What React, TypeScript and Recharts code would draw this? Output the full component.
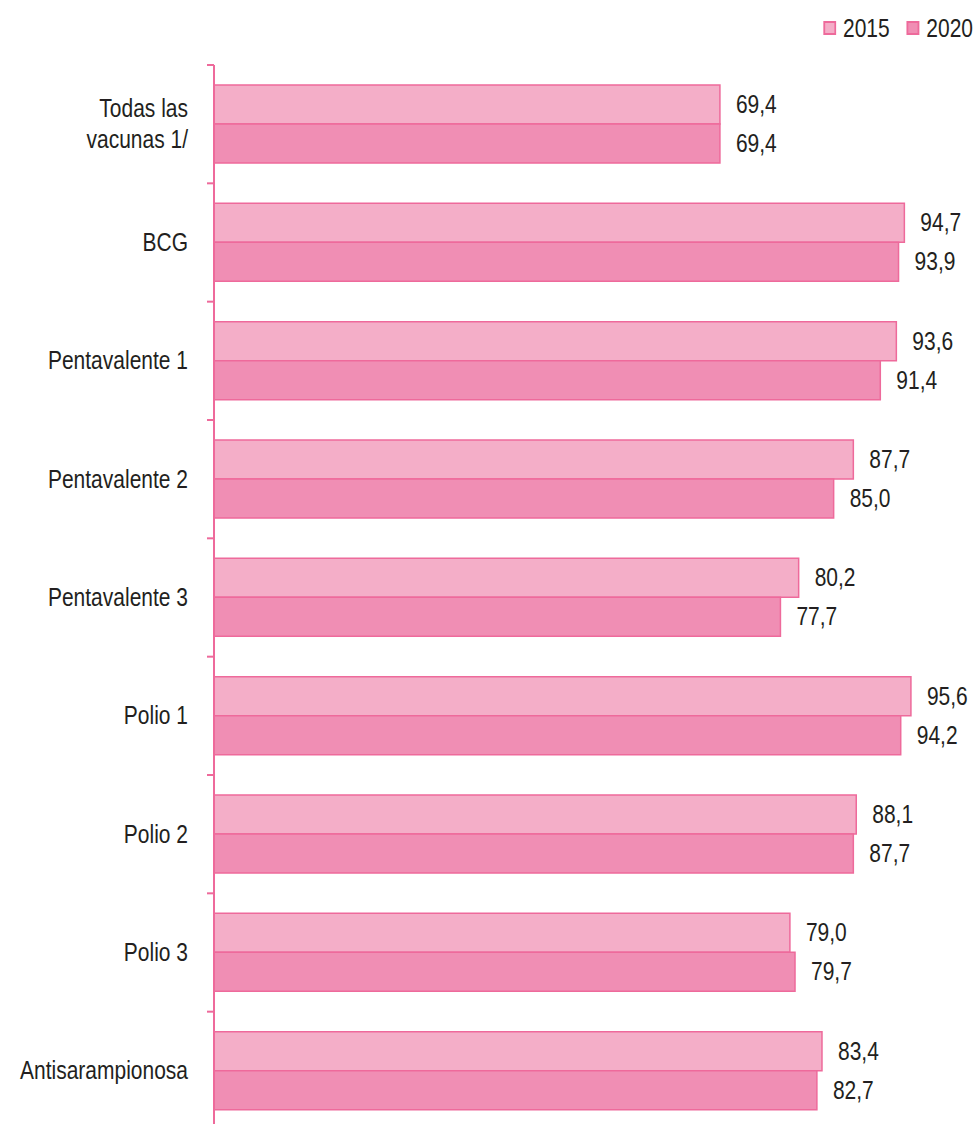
import { Bar, BarChart, LabelList, Legend, XAxis, YAxis } from 'recharts';

const categories = [
  'Todas las|vacunas 1/',
  'BCG',
  'Pentavalente 1',
  'Pentavalente 2',
  'Pentavalente 3',
  'Polio 1',
  'Polio 2',
  'Polio 3',
  'Antisarampionosa',
];
const values2015 = [69.4, 94.7, 93.6, 87.7, 80.2, 95.6, 88.1, 79.0, 83.4];
const values2020 = [69.4, 93.9, 91.4, 85.0, 77.7, 94.2, 87.7, 79.7, 82.7];

const FONT = '"Liberation Sans", Arial, sans-serif';
const TEXT = '#231f20';
const EDGE = '#ee6a9b';
const FILL_2015 = '#f4aec8';
const FILL_2020 = '#f08eb4';
const SQUEEZE = 0.84;

const chartData = categories.map((name, i) => ({
  name,
  y2015: values2015[i],
  y2020: values2020[i],
}));

// in a vertical layout the extra number axis spans the row indices 0..n-1,
// so the category boundaries sit at k * (n-1)/n
const n = categories.length;
const boundaryTicks = Array.from({ length: n + 1 }, (_, k) => (k * (n - 1)) / n);

const fmt = (v: unknown) => Number(v).toFixed(1).replace('.', ',');

function CategoryTick(props: any) {
  const { x, y, payload } = props;
  const lines = String(payload.value).split('|');
  const lh = 31;
  const start = -((lines.length - 1) * lh) / 2;
  return (
    <text
      transform={`translate(${x},${y}) scale(${SQUEEZE},1)`}
      textAnchor='end'
      fill={TEXT}
      fontFamily={FONT}
      fontSize={25}
      dominantBaseline='central'
    >
      {lines.map((l, i) => (
        <tspan key={i} x={0} y={start + i * lh}>
          {l}
        </tspan>
      ))}
    </text>
  );
}

function ValueLabel(props: any) {
  const { x, y, width, height, value } = props;
  return (
    <text
      transform={`translate(${x + width + 16},${y + height / 2}) scale(${SQUEEZE},1)`}
      fill={TEXT}
      fontFamily={FONT}
      fontSize={25}
      dominantBaseline='central'
    >
      {fmt(value)}
    </text>
  );
}

function LegendBox() {
  const items = [
    { label: '2015', fill: FILL_2015 },
    { label: '2020', fill: FILL_2020 },
  ];
  return (
    <div
      style={{
        display: 'flex',
        justifyContent: 'flex-end',
        height: 30,
        fontFamily: FONT,
        fontSize: 25,
        color: TEXT,
        transform: `scaleX(${SQUEEZE})`,
        transformOrigin: 'right center',
      }}
    >
      {items.map((it) => (
        <span key={it.label} style={{ display: 'flex', alignItems: 'center', marginLeft: 20 }}>
          <span
            style={{
              boxSizing: 'border-box',
              width: 15.5,
              height: 14,
              background: it.fill,
              border: `2px solid ${EDGE}`,
              marginRight: 8,
            }}
          />
          {it.label}
        </span>
      ))}
    </div>
  );
}

export default function App() {
  return (
    <div style={{ position: 'absolute', left: 0, top: 0, width: 974, height: 1124, overflow: 'hidden', background: '#fff' }}>
      <BarChart
        width={974}
        height={1136}
        data={chartData}
        layout='vertical'
        margin={{ top: 35, right: 31, bottom: 6, left: 0 }}
        barCategoryGap={20}
        barGap={0}
      >
        <XAxis type='number' domain={[0, 100]} hide />
        <YAxis
          yAxisId='cat'
          type='category'
          dataKey='name'
          width={213}
          axisLine={false}
          tickLine={false}
          tickMargin={19}
          tick={<CategoryTick />}
          interval={0}
        />
        <YAxis
          yAxisId='aa'
          type='number'
          ticks={boundaryTicks}
          interval={0}
          width={1}
          tickFormatter={() => ''}
          tickSize={7}
          tickMargin={0}
          axisLine={{ stroke: EDGE, strokeWidth: 2 }}
          tickLine={{ stroke: EDGE, strokeWidth: 2 }}
        />
        <Legend verticalAlign='top' align='right' content={<LegendBox />} wrapperStyle={{ top: 13, right: 1 }} />
        <Bar yAxisId='cat' dataKey='y2015' name='2015' fill={FILL_2015} stroke={EDGE} strokeWidth={1.5} isAnimationActive={false}>
          <LabelList dataKey='y2015' content={<ValueLabel />} />
        </Bar>
        <Bar yAxisId='cat' dataKey='y2020' name='2020' fill={FILL_2020} stroke={EDGE} strokeWidth={1.5} isAnimationActive={false}>
          <LabelList dataKey='y2020' content={<ValueLabel />} />
        </Bar>
      </BarChart>
    </div>
  );
}
